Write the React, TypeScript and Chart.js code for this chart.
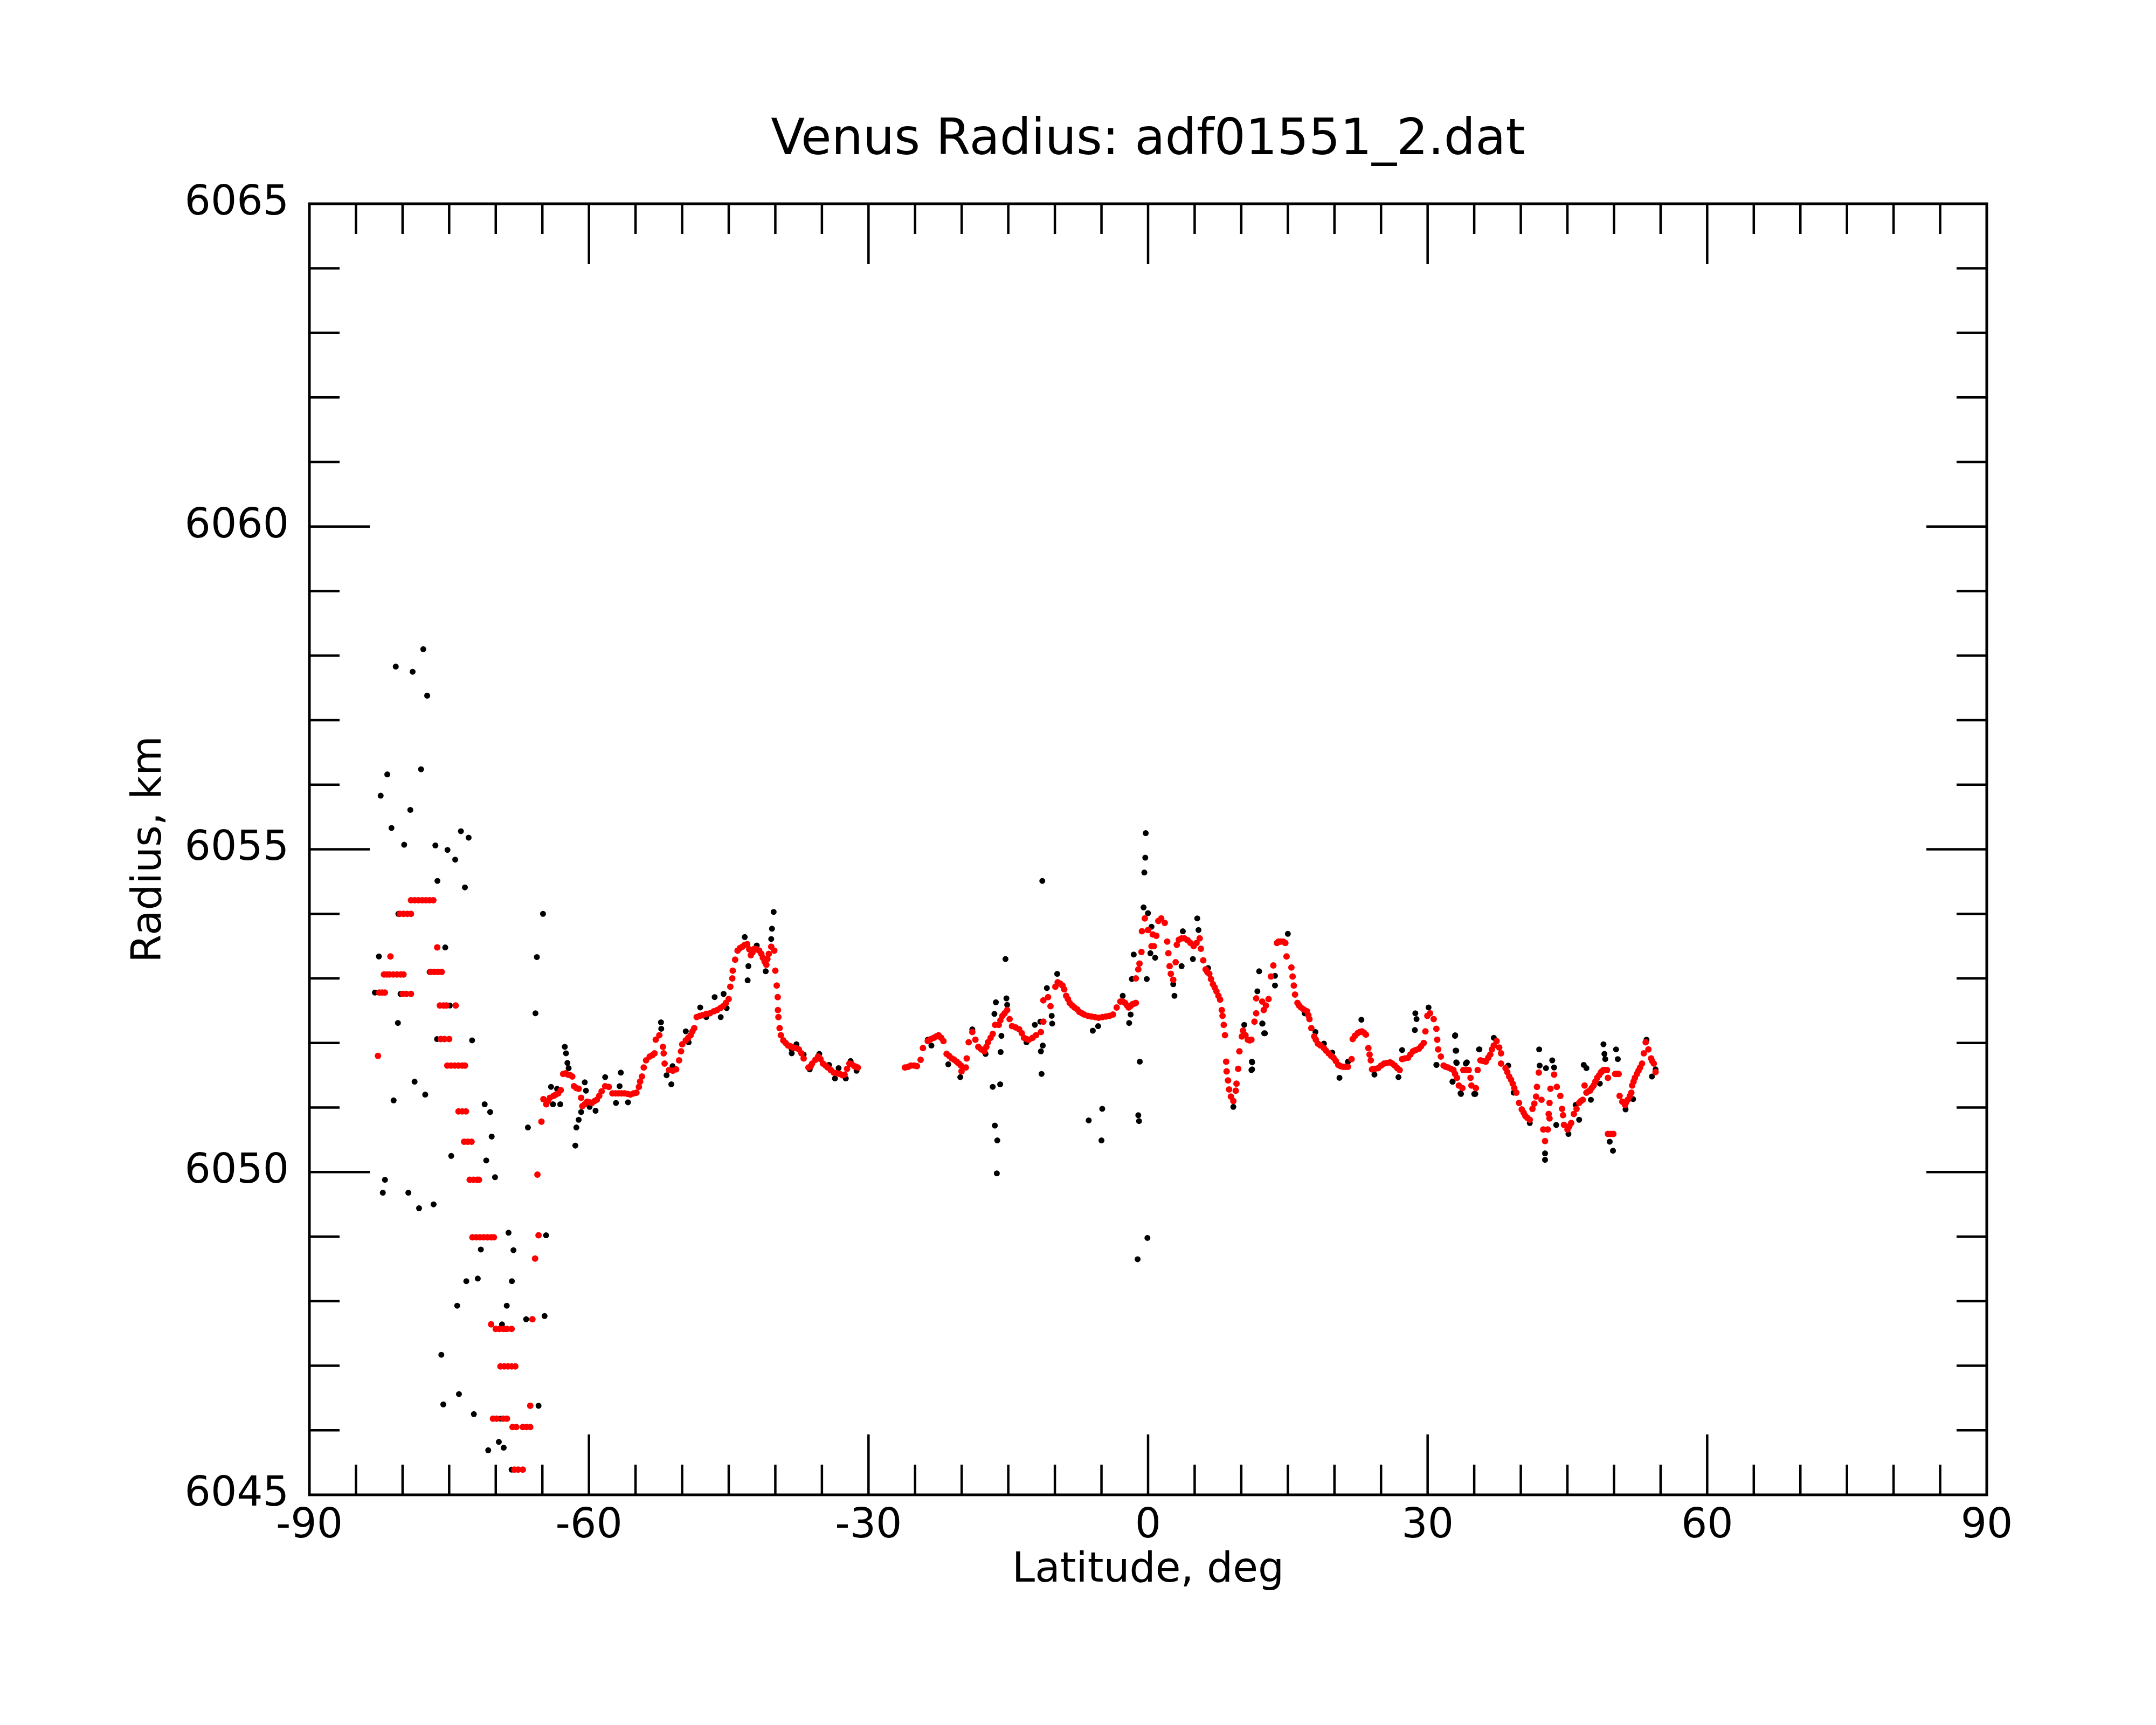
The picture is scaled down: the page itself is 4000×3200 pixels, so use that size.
import React, { useEffect, useRef } from "react";
import { Chart, registerables } from "chart.js";

Chart.register(...registerables);

const TITLE = "Venus Radius: adf01551_2.dat";
const X_TITLE = "Latitude, deg";
const Y_TITLE = "Radius, km";
const X_MIN = -90;
const X_MAX = 90;
const Y_MIN = 6045;
const Y_MAX = 6065;
const X_MAJOR = 30;
const X_MINOR = 5;
const Y_MAJOR = 5;
const Y_MINOR = 1;

// smoothed (red) values in the southern polar region: [latitude, radius]
const smoothPolar: [number, number][] = [
  [-82.64, 6051.8],
  [-82.5, 6052.78], [-82.2, 6052.78], [-81.9, 6052.78],
  [-82.0, 6053.06], [-81.7, 6053.06], [-81.4, 6053.06], [-81.0, 6053.06], [-80.6, 6053.06], [-80.2, 6053.06], [-79.9, 6053.06],
  [-81.3, 6053.34],
  [-80.3, 6054.0], [-79.9, 6054.0], [-79.5, 6054.0], [-79.1, 6054.0],
  [-79.1, 6054.21], [-78.7, 6054.21], [-78.3, 6054.21], [-77.9, 6054.21], [-77.5, 6054.21], [-77.1, 6054.21], [-76.7, 6054.21],
  [-80.0, 6052.76], [-79.6, 6052.76], [-79.1, 6052.76],
  [-76.28, 6053.48],
  [-77.0, 6053.1], [-76.6, 6053.1], [-76.2, 6053.1], [-75.8, 6053.1],
  [-76.0, 6052.58], [-75.6, 6052.58], [-75.3, 6052.58], [-74.3, 6052.58],
  [-75.9, 6052.06], [-75.5, 6052.06], [-75.0, 6052.06],
  [-75.2, 6051.65], [-74.8, 6051.65], [-74.4, 6051.65], [-74.0, 6051.65], [-73.6, 6051.65], [-73.3, 6051.65],
  [-74.0, 6050.94], [-73.6, 6050.94], [-73.2, 6050.94],
  [-73.4, 6050.47], [-73.0, 6050.47], [-72.6, 6050.47],
  [-72.8, 6049.88], [-72.4, 6049.88], [-72.0, 6049.88], [-71.8, 6049.88],
  [-72.5, 6048.99], [-72.1, 6048.99], [-71.7, 6048.99], [-71.3, 6048.99], [-70.9, 6048.99], [-70.5, 6048.99], [-70.2, 6048.99],
  [-70.5, 6047.64], [-70.0, 6047.57], [-69.6, 6047.57], [-69.2, 6047.57], [-68.8, 6047.57], [-68.3, 6047.57],
  [-69.5, 6046.99], [-69.1, 6046.99], [-68.7, 6046.99], [-68.3, 6046.99], [-67.9, 6046.99],
  [-70.3, 6046.18], [-69.9, 6046.18], [-69.2, 6046.18], [-68.8, 6046.18],
  [-68.2, 6046.05], [-67.8, 6046.05], [-67.1, 6046.05], [-66.7, 6046.05], [-66.3, 6046.05],
  [-68.0, 6045.39], [-67.6, 6045.39], [-67.1, 6045.39],
  [-66.3, 6046.38], [-66.07, 6047.72],
  [-65.78, 6048.66], [-65.41, 6049.02], [-65.53, 6049.96], [-65.1, 6050.78],
];

// smoothed (red) trace, southern segment
const smoothSouth: [number, number][] = [
  [-64.89, 6051.13], [-64.58, 6051.05], [-64.4, 6051.1], [-64.19, 6051.15], [-63.8, 6051.18],
  [-63.55, 6051.2], [-63.3, 6051.22], [-63.03, 6051.27], [-62.77, 6051.52], [-62.5, 6051.53],
  [-62.26, 6051.51], [-62.0, 6051.5], [-61.79, 6051.48], [-61.61, 6051.33], [-61.35, 6051.3],
  [-61.1, 6051.29], [-60.84, 6051.15], [-60.71, 6051.02], [-60.45, 6051.05], [-60.19, 6051.09],
  [-59.9, 6051.08], [-59.68, 6051.07], [-59.4, 6051.1], [-59.16, 6051.12], [-58.9, 6051.18],
  [-58.64, 6051.25], [-58.26, 6051.33], [-57.87, 6051.32], [-57.48, 6051.22], [-57.15, 6051.22],
  [-56.84, 6051.22], [-56.5, 6051.22], [-56.19, 6051.22], [-55.85, 6051.21], [-55.55, 6051.2],
  [-55.2, 6051.22], [-54.9, 6051.23], [-54.64, 6051.32], [-54.51, 6051.4], [-54.31, 6051.48],
  [-54.12, 6051.62], [-53.87, 6051.73], [-53.48, 6051.79], [-53.2, 6051.81], [-52.96, 6051.84],
  [-52.83, 6052.05], [-52.45, 6052.12], [-52.06, 6051.94], [-51.98, 6051.84], [-51.88, 6051.68],
  [-51.41, 6051.58], [-51.0, 6051.57], [-50.64, 6051.59], [-50.33, 6051.73], [-50.12, 6051.87],
  [-49.99, 6051.98], [-49.61, 6052.04], [-49.35, 6052.08], [-49.09, 6052.12], [-48.9, 6052.18],
  [-48.7, 6052.23], [-48.44, 6052.4], [-48.1, 6052.42], [-47.8, 6052.43], [-47.4, 6052.45],
  [-47.02, 6052.46], [-46.6, 6052.49], [-46.25, 6052.51], [-45.9, 6052.54], [-45.6, 6052.57],
  [-45.3, 6052.62], [-45.01, 6052.68], [-44.83, 6052.87], [-44.62, 6053.0], [-44.57, 6053.12],
  [-44.31, 6053.29], [-44.05, 6053.43], [-43.8, 6053.47], [-43.54, 6053.49], [-43.28, 6053.52],
  [-43.02, 6053.53], [-42.8, 6053.45], [-42.63, 6053.36], [-42.45, 6053.4], [-42.25, 6053.46],
  [-42.0, 6053.45], [-41.73, 6053.43], [-41.5, 6053.38], [-41.34, 6053.32], [-41.15, 6053.26],
  [-40.96, 6053.21], [-40.85, 6053.3], [-40.7, 6053.38], [-40.44, 6053.49], [-40.11, 6053.43],
  [-40.0, 6053.12], [-39.85, 6052.89], [-39.74, 6052.71], [-39.72, 6052.51], [-39.67, 6052.4],
  [-39.54, 6052.23], [-39.41, 6052.12], [-39.15, 6052.04], [-38.9, 6052.0], [-38.63, 6051.96],
  [-38.4, 6051.95], [-38.12, 6051.93], [-37.8, 6051.92], [-37.47, 6051.9], [-37.2, 6051.84],
  [-36.96, 6051.76], [-36.44, 6051.62], [-36.2, 6051.64], [-36.05, 6051.68], [-35.7, 6051.74],
  [-35.41, 6051.79], [-35.15, 6051.75], [-34.89, 6051.68], [-34.6, 6051.65], [-34.37, 6051.62],
  [-34.05, 6051.58], [-33.73, 6051.54], [-33.4, 6051.53], [-33.08, 6051.52], [-32.8, 6051.5],
  [-32.57, 6051.51], [-32.3, 6051.6], [-32.05, 6051.68], [-31.8, 6051.67], [-31.53, 6051.64],
  [-31.35, 6051.63], [-31.15, 6051.62],
];

// smoothed (red) trace, equatorial segment
const smoothMiddle: [number, number][] = [
  [-26.09, 6051.62], [-25.75, 6051.63], [-25.45, 6051.65], [-25.1, 6051.65], [-24.8, 6051.64],
  [-24.41, 6051.74], [-24.16, 6051.92], [-23.64, 6052.03], [-23.3, 6052.06], [-23.0, 6052.08],
  [-22.75, 6052.1], [-22.48, 6052.12], [-22.2, 6052.08], [-21.96, 6052.03], [-21.62, 6051.83],
  [-21.35, 6051.8], [-21.06, 6051.76], [-20.8, 6051.74], [-20.54, 6051.71], [-20.3, 6051.68],
  [-20.08, 6051.65], [-20.02, 6051.56], [-19.56, 6051.62], [-19.46, 6051.76], [-19.25, 6052.01],
  [-18.86, 6052.17], [-18.53, 6052.05], [-18.22, 6051.94], [-17.9, 6051.9], [-17.57, 6051.87],
  [-17.35, 6051.94], [-17.18, 6052.01], [-16.9, 6052.08], [-16.67, 6052.14], [-16.41, 6052.28],
  [-16.02, 6052.28], [-15.85, 6052.35], [-15.63, 6052.42], [-15.4, 6052.46], [-15.12, 6052.51],
  [-14.86, 6052.37], [-14.6, 6052.26], [-14.2, 6052.24], [-13.83, 6052.21], [-13.55, 6052.15],
  [-13.31, 6052.08], [-13.05, 6052.06], [-12.79, 6052.05], [-12.4, 6052.08], [-12.02, 6052.12],
  [-11.5, 6052.17], [-11.24, 6052.33], [-11.24, 6052.66], [-10.73, 6052.71], [-10.47, 6052.57],
  [-9.95, 6052.87], [-9.7, 6052.94], [-9.45, 6052.92], [-9.18, 6052.89], [-9.0, 6052.83],
  [-8.79, 6052.73], [-8.6, 6052.68], [-8.41, 6052.62], [-8.15, 6052.58], [-7.89, 6052.55],
  [-7.6, 6052.52], [-7.37, 6052.48], [-7.1, 6052.46], [-6.86, 6052.44], [-6.45, 6052.42],
  [-6.08, 6052.41], [-5.7, 6052.4], [-5.31, 6052.39], [-4.9, 6052.4], [-4.53, 6052.41],
  [-4.15, 6052.42], [-3.76, 6052.44], [-3.37, 6052.55], [-2.98, 6052.64], [-2.7, 6052.64],
  [-2.47, 6052.62], [-2.25, 6052.58], [-2.08, 6052.55], [-1.9, 6052.57], [-1.69, 6052.6],
  [-1.5, 6052.61], [-1.31, 6052.62], [-1.31, 6053.0], [-1.05, 6053.14], [-0.92, 6053.23],
  [-0.71, 6053.41], [-0.66, 6053.73], [-0.35, 6053.93], [-0.01, 6053.75], [0.37, 6053.5],
  [0.5, 6053.68], [0.63, 6053.5], [0.89, 6053.66], [1.1, 6053.89], [1.41, 6053.93],
  [1.79, 6053.86], [2.05, 6053.57], [2.18, 6053.39], [2.31, 6053.19], [2.44, 6053.07],
  [2.7, 6052.98], [2.96, 6053.25], [3.08, 6053.52], [3.3, 6053.6], [3.6, 6053.62],
  [3.9, 6053.62], [4.25, 6053.59], [4.55, 6053.55], [4.89, 6053.5], [5.2, 6053.55],
  [5.54, 6053.62], [5.67, 6053.46], [5.92, 6053.28], [6.18, 6053.14], [6.35, 6053.1],
  [6.57, 6053.07], [6.75, 6052.99], [6.96, 6052.91], [7.15, 6052.86], [7.34, 6052.8],
  [7.55, 6052.73], [7.73, 6052.67], [7.91, 6052.51], [7.99, 6052.42], [8.12, 6052.28],
  [8.25, 6052.12], [8.38, 6051.71], [8.43, 6051.56], [8.58, 6051.42], [8.69, 6051.28],
  [8.89, 6051.17], [9.15, 6051.1], [9.41, 6051.26], [9.49, 6051.37], [9.67, 6051.6],
  [9.8, 6051.87], [10.06, 6052.1], [10.19, 6052.19], [10.45, 6052.12], [10.7, 6052.05],
  [10.9, 6052.04], [11.09, 6052.05], [11.42, 6052.33], [11.6, 6052.46], [11.6, 6052.69],
  [12.25, 6052.64], [12.41, 6052.51], [12.65, 6052.58], [12.93, 6052.68], [13.19, 6053.03],
  [13.44, 6053.2], [13.83, 6053.55], [14.0, 6053.57], [14.22, 6053.57], [14.5, 6053.57],
  [14.73, 6053.55], [14.86, 6053.34], [15.38, 6053.17], [15.51, 6053.03], [15.64, 6052.89],
  [15.77, 6052.75], [16.03, 6052.62], [16.2, 6052.58], [16.41, 6052.55], [16.7, 6052.52],
  [17.06, 6052.49], [17.2, 6052.43], [17.32, 6052.37], [17.52, 6052.23], [17.83, 6052.1],
  [18.0, 6052.05], [18.22, 6051.99], [18.5, 6051.96], [18.87, 6051.92], [19.1, 6051.88],
  [19.38, 6051.84], [19.65, 6051.8], [19.9, 6051.77], [20.15, 6051.72], [20.41, 6051.66],
  [20.65, 6051.64], [20.93, 6051.63], [21.2, 6051.63], [21.45, 6051.63], [21.84, 6051.75],
  [21.96, 6052.06], [22.2, 6052.11], [22.48, 6052.15], [22.7, 6052.17], [22.95, 6052.18],
  [23.15, 6052.16], [23.38, 6052.13], [23.64, 6051.92], [23.77, 6051.82], [23.9, 6051.73],
  [24.03, 6051.59], [24.35, 6051.6], [24.68, 6051.61], [25.0, 6051.65], [25.32, 6051.68],
  [25.65, 6051.69], [25.97, 6051.7], [26.2, 6051.68], [26.48, 6051.65], [26.75, 6051.61],
  [27.0, 6051.58], [27.26, 6051.75], [27.55, 6051.76], [27.9, 6051.77], [28.15, 6051.82],
  [28.42, 6051.87], [28.7, 6051.89], [29.06, 6051.91], [29.3, 6051.95], [29.58, 6052.0],
  [29.76, 6052.18], [29.97, 6052.42],
];

// smoothed (red) trace, northern segment
const smoothNorth: [number, number][] = [
  [30.26, 6052.46], [30.65, 6052.37], [30.94, 6052.22], [31.03, 6052.05], [31.13, 6051.9],
  [31.42, 6051.79], [31.71, 6051.65], [31.95, 6051.63], [32.19, 6051.62], [32.5, 6051.6],
  [32.77, 6051.58], [32.95, 6051.52], [33.15, 6051.46], [33.35, 6051.34], [33.73, 6051.3],
  [33.83, 6051.58], [34.1, 6051.58], [34.41, 6051.58], [34.6, 6051.46], [34.7, 6051.34],
  [35.18, 6051.3], [35.37, 6051.58], [35.66, 6051.73], [35.95, 6051.72], [36.24, 6051.71],
  [36.5, 6051.77], [36.72, 6051.82], [36.9, 6051.9], [37.1, 6051.96], [37.4, 6052.03],
  [37.68, 6051.93], [37.88, 6051.84], [37.88, 6051.68], [38.36, 6051.61], [38.55, 6051.55],
  [38.75, 6051.48], [38.95, 6051.43], [39.13, 6051.37], [39.3, 6051.3], [39.52, 6051.23],
  [39.81, 6051.07], [40.1, 6050.97], [40.3, 6050.92], [40.48, 6050.87], [40.7, 6050.84],
  [40.96, 6050.81], [41.25, 6050.98], [41.45, 6051.06], [41.64, 6051.17], [41.73, 6051.32],
  [41.93, 6051.54], [42.22, 6051.12], [42.41, 6050.66], [42.6, 6050.48], [42.89, 6050.66],
  [42.99, 6050.9], [43.08, 6051.07], [43.08, 6050.83], [43.18, 6051.29], [43.57, 6051.51],
  [43.86, 6051.32], [44.24, 6051.18], [44.43, 6050.98], [44.53, 6050.88], [44.63, 6050.73],
  [45.01, 6050.66], [45.2, 6050.71], [45.4, 6050.76], [45.69, 6050.9], [45.98, 6050.98],
  [46.26, 6051.07], [46.45, 6051.1], [46.65, 6051.12], [46.84, 6051.34], [47.04, 6051.23],
  [47.25, 6051.25], [47.42, 6051.26], [47.6, 6051.3], [47.81, 6051.34], [48.0, 6051.4],
  [48.19, 6051.46], [48.4, 6051.5], [48.58, 6051.54], [48.7, 6051.56], [48.87, 6051.58],
  [49.05, 6051.58], [49.25, 6051.58], [49.35, 6051.46], [49.35, 6050.59], [49.65, 6050.59],
  [49.93, 6050.59], [50.12, 6051.52], [50.3, 6051.52], [50.5, 6051.52], [50.6, 6051.18],
  [50.89, 6051.09], [51.18, 6051.04], [51.3, 6051.08], [51.47, 6051.12], [51.7, 6051.18],
  [51.86, 6051.23], [51.95, 6051.34], [52.1, 6051.4], [52.24, 6051.46], [52.45, 6051.52],
  [52.63, 6051.57], [52.8, 6051.62], [53.01, 6051.68], [53.2, 6051.84], [53.4, 6052.01],
  [53.69, 6051.9], [53.98, 6051.76], [54.1, 6051.72], [54.27, 6051.68], [54.46, 6051.55],
];

// raw (black) measurements that stand out from the smoothed trace
const rawPolar: [number, number][] = [
  [-77.78, 6058.1], [-80.73, 6057.83], [-78.92, 6057.75], [-77.36, 6057.38], [-78.02, 6056.24],
  [-81.64, 6056.16], [-82.35, 6055.83], [-79.17, 6055.61], [-81.19, 6055.33], [-79.83, 6055.07],
  [-76.48, 6055.06], [-73.74, 6055.28], [-72.91, 6055.18], [-75.18, 6054.99], [-74.35, 6054.84],
  [-76.26, 6054.51], [-73.31, 6054.41], [-80.45, 6054.0], [-75.42, 6053.48], [-82.54, 6053.34],
  [-77.1, 6053.1], [-82.97, 6052.78], [-80.22, 6052.76], [-74.93, 6052.58], [-80.5, 6052.31],
  [-76.3, 6052.06], [-72.54, 6052.04], [-78.71, 6051.4], [-77.57, 6051.2], [-80.96, 6051.11],
  [-71.19, 6051.05], [-70.6, 6050.93], [-70.44, 6050.55], [-74.78, 6050.25], [-71.02, 6050.18],
  [-70.08, 6049.92], [-81.89, 6049.88], [-82.12, 6049.68], [-79.38, 6049.68], [-78.23, 6049.44],
  [-76.67, 6049.5], [-68.63, 6049.06], [-71.6, 6048.8], [-68.1, 6048.79], [-71.93, 6048.35],
  [-73.16, 6048.31], [-68.27, 6048.31], [-74.14, 6047.93], [-68.82, 6047.93], [-69.33, 6047.64],
  [-68.96, 6047.57], [-75.84, 6047.17], [-73.95, 6046.56], [-75.63, 6046.4], [-72.35, 6046.25],
  [-69.67, 6045.82], [-69.15, 6045.73], [-70.81, 6045.69], [-68.3, 6045.39], [-69.48, 6046.18],
  [-66.74, 6047.72], [-65.41, 6046.38], [-64.76, 6047.77], [-64.6, 6049.02], [-66.55, 6050.69],
  [-65.74, 6052.46], [-65.59, 6053.33], [-64.93, 6054.0], [-61.46, 6050.41], [-61.35, 6050.69],
  [-61.1, 6050.81], [-60.84, 6050.93],
];

const rawSouth: [number, number][] = [
  [-64.07, 6051.32], [-63.86, 6051.05], [-63.08, 6051.05], [-63.42, 6051.29], [-62.59, 6051.94],
  [-62.46, 6051.84], [-62.31, 6051.69], [-62.18, 6051.61], [-60.45, 6051.39], [-60.32, 6051.26],
  [-59.29, 6050.95], [-59.93, 6051.01], [-58.26, 6051.47], [-56.58, 6051.54], [-57.1, 6051.07],
  [-55.81, 6051.08], [-56.71, 6051.33], [-52.27, 6052.32], [-52.24, 6052.22], [-51.16, 6051.36],
  [-51.03, 6051.64], [-51.67, 6051.5], [-49.61, 6052.18], [-49.3, 6052.01], [-48.06, 6052.55],
  [-47.41, 6052.4], [-46.51, 6052.71], [-45.86, 6052.4], [-45.55, 6052.76], [-45.22, 6052.54],
  [-43.28, 6053.64], [-42.89, 6053.19], [-42.97, 6052.97], [-41.99, 6053.51], [-41.03, 6053.11],
  [-40.36, 6053.77], [-40.44, 6053.61], [-40.18, 6054.03], [-38.24, 6051.84], [-37.73, 6051.98],
  [-35.28, 6051.83], [-33.6, 6051.45], [-32.44, 6051.45], [-31.92, 6051.72], [-31.28, 6051.57],
  [-33.21, 6051.61], [-34.24, 6051.66], [-36.31, 6051.59], [-36.96, 6051.82], [-38.24, 6051.9],
];

const rawMiddle: [number, number][] = [
  [-11.35, 6054.51], [-15.3, 6053.3], [-0.25, 6055.25], [-0.3, 6054.87], [-0.4, 6054.64],
  [-0.48, 6054.1], [-0.01, 6054.01], [-0.89, 6051.71], [-1.05, 6050.88], [-0.97, 6050.79],
  [-0.07, 6048.98], [-1.12, 6048.65], [-16.67, 6051.32], [-15.87, 6051.36], [-16.44, 6050.72],
  [-16.18, 6050.49], [-16.23, 6049.98], [-15.82, 6051.86], [-15.74, 6052.11], [-16.33, 6052.63],
  [-16.49, 6052.45], [-15.2, 6052.69], [-15.12, 6052.59], [-11.5, 6051.87], [-11.3, 6051.96],
  [-11.43, 6051.52], [-11.56, 6052.33], [-10.86, 6052.85], [-10.34, 6052.42], [-10.29, 6052.3],
  [-9.75, 6053.07], [-5.93, 6052.19], [-5.36, 6052.26], [-6.37, 6050.8], [-4.92, 6050.98],
  [-5.0, 6050.49], [-2.03, 6052.31], [-1.87, 6052.44], [-1.74, 6052.99], [-1.54, 6053.37],
  [-0.14, 6052.99], [0.25, 6053.39], [0.37, 6053.8], [0.76, 6053.32], [2.83, 6052.73],
  [2.7, 6052.91], [3.6, 6053.19], [3.73, 6053.73], [4.81, 6053.3], [5.28, 6053.93],
  [5.41, 6053.75], [6.44, 6053.16], [9.15, 6051.01], [11.14, 6051.71], [11.09, 6051.58],
  [11.92, 6053.11], [11.73, 6052.8], [12.25, 6052.3], [12.46, 6052.15], [10.32, 6052.28],
  [-20.15, 6051.47], [-21.44, 6051.67], [-23.64, 6052.05], [-23.25, 6051.96], [-17.44, 6051.83],
  [-18.86, 6052.21], [-12.15, 6052.28], [-13.05, 6052.01], [-2.72, 6052.73],
  [13.62, 6053.04], [13.62, 6052.89], [15.0, 6053.69], [12.54, 6052.15], [12.28, 6052.3],
  [11.17, 6051.7], [11.17, 6051.59], [22.89, 6052.36], [28.68, 6052.46], [28.81, 6052.37],
  [28.63, 6052.2], [30.1, 6052.55], [20.54, 6051.46], [26.87, 6051.47], [24.29, 6051.51],
  [27.26, 6051.89], [16.8, 6052.46], [17.96, 6052.17], [21.45, 6051.71], [19.77, 6051.85],
  [18.87, 6051.99],
];

const rawNorth: [number, number][] = [
  [30.95, 6051.66], [32.94, 6052.11], [33.07, 6051.88], [33.07, 6051.7], [32.68, 6051.4],
  [33.58, 6051.21], [35.0, 6051.21], [35.52, 6051.9], [34.1, 6051.68],
  [32.96, 6052.12], [33.0, 6051.88], [33.12, 6051.69], [30.94, 6051.66], [32.67, 6051.4],
  [33.54, 6051.22], [35.12, 6051.21], [35.56, 6051.9], [34.21, 6051.7], [37.1, 6052.08],
  [38.65, 6051.65], [39.23, 6051.23], [40.96, 6050.76], [41.97, 6051.9], [42.02, 6051.65],
  [42.6, 6050.29], [42.6, 6050.19], [42.7, 6051.61], [43.37, 6051.73], [43.57, 6051.62],
  [43.8, 6050.73], [45.11, 6050.59], [45.88, 6051.04], [46.26, 6050.81], [46.75, 6051.66],
  [47.04, 6051.61], [48.48, 6051.37], [47.52, 6051.12], [48.87, 6051.98], [48.97, 6051.83],
  [49.06, 6051.75], [50.22, 6051.9], [50.41, 6051.75], [49.54, 6050.47], [49.89, 6050.33],
  [51.24, 6050.97], [52.05, 6051.13], [53.49, 6052.05], [54.07, 6051.48], [54.46, 6051.59],
];

const FONT = '"DejaVu Sans", "Liberation Sans", sans-serif';

const toXY = (arr: [number, number][]) => arr.map(([x, y]) => ({ x, y }));

const framePlugin = {
  id: "frameTicks",
  afterDraw(chart: any) {
    const { ctx, chartArea } = chart;
    const xs = chart.scales.x;
    const ys = chart.scales.y;
    const { left, right, top, bottom } = chartArea;
    ctx.save();
    ctx.strokeStyle = "#000";
    ctx.lineWidth = 5;
    ctx.lineCap = "butt";
    ctx.strokeRect(left, top, right - left, bottom - top);
    ctx.lineWidth = 4.5;
    ctx.beginPath();
    for (let v = X_MIN + X_MINOR; v < X_MAX; v += X_MINOR) {
      const px = xs.getPixelForValue(v);
      const len = v % X_MAJOR === 0 ? 112 : 56;
      ctx.moveTo(px, bottom);
      ctx.lineTo(px, bottom - len);
      ctx.moveTo(px, top);
      ctx.lineTo(px, top + len);
    }
    for (let v = Y_MIN + Y_MINOR; v < Y_MAX; v += Y_MINOR) {
      const py = ys.getPixelForValue(v);
      const len = (v - Y_MIN) % Y_MAJOR === 0 ? 112 : 56;
      ctx.moveTo(left, py);
      ctx.lineTo(left + len, py);
      ctx.moveTo(right, py);
      ctx.lineTo(right - len, py);
    }
    ctx.stroke();

    ctx.fillStyle = "#000";
    ctx.textAlign = "center";
    ctx.textBaseline = "alphabetic";
    ctx.font = `92px ${FONT}`;
    ctx.fillText(TITLE, (left + right) / 2, 286);
    ctx.font = `76px ${FONT}`;
    ctx.fillText(X_TITLE, (left + right) / 2, 2934);
    ctx.translate(298, (top + bottom) / 2);
    ctx.rotate(-Math.PI / 2);
    ctx.fillText(Y_TITLE, 0, 0);
    ctx.restore();
  },
};

export default function App() {
  const ref = useRef<HTMLCanvasElement | null>(null);
  useEffect(() => {
    if (!ref.current) return;
    const chart = new Chart(ref.current, {
      type: "scatter",
      data: {
        datasets: [
          {
            label: "smoothed",
            data: [
              ...toXY(smoothPolar),
              ...toXY(smoothSouth),
              ...toXY(smoothMiddle),
              ...toXY(smoothNorth),
            ],
            backgroundColor: "#ff0000",
            borderWidth: 0,
            pointRadius: 6,
          },
          {
            label: "raw",
            data: [
              ...toXY(rawPolar),
              ...toXY(rawSouth),
              ...toXY(rawMiddle),
              ...toXY(rawNorth),
            ],
            backgroundColor: "#000000",
            borderWidth: 0,
            pointRadius: 5.5,
          },
        ],
      },
      options: {
        animation: false,
        responsive: false,
        devicePixelRatio: 1,
        layout: { padding: { left: 0, top: 378, right: 314, bottom: 0 } },
        plugins: {
          legend: { display: false },
          tooltip: { enabled: false },
          title: { display: false },
        },
        scales: {
          x: {
            type: "linear",
            min: X_MIN,
            max: X_MAX,
            grid: { display: false, drawTicks: false },
            border: { display: false },
            ticks: {
              stepSize: X_MAJOR,
              padding: 14,
              color: "#000",
              font: { size: 76, family: FONT },
              maxRotation: 0,
              callback: (v: any) => String(v),
            },
            afterFit: (s: any) => {
              s.height = 3200 - 2773;
            },
          },
          y: {
            type: "linear",
            min: Y_MIN,
            max: Y_MAX,
            grid: { display: false, drawTicks: false },
            border: { display: false },
            ticks: {
              stepSize: Y_MAJOR,
              padding: 38,
              color: "#000",
              font: { size: 76, family: FONT },
              callback: (v: any) => String(v),
            },
            afterFit: (s: any) => {
              s.width = 574;
            },
          },
        },
      },
      plugins: [framePlugin],
    });
    return () => chart.destroy();
  }, []);
  return (
    <div style={{ position: "absolute", left: 0, top: 0, width: 4000, height: 3200, background: "#fff" }}>
      <canvas ref={ref} width={4000} height={3200} style={{ width: 4000, height: 3200 }} />
    </div>
  );
}
